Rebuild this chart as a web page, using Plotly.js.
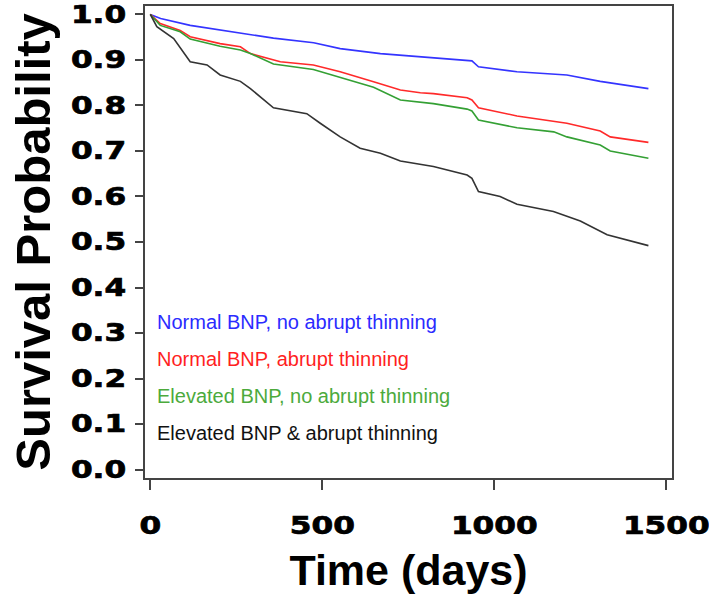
<!DOCTYPE html>
<html>
<head>
<meta charset="utf-8">
<script src="https://cdn.plot.ly/plotly-3.0.1.min.js"></script>
<style>
html,body{margin:0;padding:0;background:#fff;}
#chart{width:709px;height:603px;}
#chart .xtick text, #chart .ytick text{stroke:#000;stroke-width:0.7px;}
</style>
</head>
<body>
<div id="chart"></div>
<script>
// Series labels and colours
const seriesNames = [
  "Normal BNP, no abrupt thinning",
  "Normal BNP, abrupt thinning",
  "Elevated BNP, no abrupt thinning",
  "Elevated BNP & abrupt thinning"
];
const seriesColors = ["#3434ff", "#ff2a2a", "#34a034", "#333333"];
const labelColors = ["#2b2bff", "#ff1f1f", "#4caa3c", "#111111"];

// Survival curves (time in days, survival probability)
const blueT = [0, 30, 116, 262, 358, 475, 552, 669, 785, 921, 935, 954, 1066, 1211, 1308, 1448];
const blueS = [1.0, 0.991, 0.976, 0.960, 0.948, 0.938, 0.925, 0.914, 0.907, 0.900, 0.898, 0.885, 0.874, 0.867, 0.853, 0.837];

const redT = [0, 29, 87, 116, 203, 262, 291, 358, 378, 474, 552, 649, 727, 785, 823, 921, 935, 954, 1066, 1211, 1308, 1337, 1448];
const redS = [1.0, 0.980, 0.965, 0.951, 0.936, 0.929, 0.914, 0.900, 0.896, 0.889, 0.874, 0.852, 0.834, 0.828, 0.826, 0.817, 0.812, 0.795, 0.777, 0.761, 0.744, 0.731, 0.719];

const greenT = [0, 29, 87, 116, 203, 262, 291, 358, 474, 552, 649, 727, 823, 921, 935, 954, 1066, 1173, 1211, 1308, 1337, 1448];
const greenS = [1.0, 0.976, 0.962, 0.946, 0.930, 0.922, 0.914, 0.891, 0.879, 0.862, 0.840, 0.812, 0.804, 0.792, 0.788, 0.768, 0.751, 0.742, 0.731, 0.713, 0.700, 0.684];

const blackT = [0, 19, 68, 116, 165, 203, 262, 291, 358, 455, 494, 552, 610, 669, 727, 823, 921, 935, 954, 1017, 1066, 1172, 1250, 1328, 1448];
const blackS = [1.0, 0.973, 0.947, 0.896, 0.889, 0.867, 0.853, 0.837, 0.795, 0.782, 0.761, 0.731, 0.706, 0.695, 0.678, 0.666, 0.647, 0.640, 0.611, 0.600, 0.583, 0.567, 0.546, 0.516, 0.492];

const xTicks = [0, 500, 1000, 1500];
const yTicks = [0.0, 0.1, 0.2, 0.3, 0.4, 0.5, 0.6, 0.7, 0.8, 0.9, 1.0];
const yTickText = ["0.0", "0.1", "0.2", "0.3", "0.4", "0.5", "0.6", "0.7", "0.8", "0.9", "1.0"];
const labelY = [0.325, 0.244, 0.162, 0.081];
const labelX = 14;

const xs = [blueT, redT, greenT, blackT];
const ys = [blueS, redS, greenS, blackS];

const traces = xs.map((t, i) => ({
  x: t, y: ys[i], type: "scatter", mode: "lines",
  name: seriesNames[i],
  line: {color: seriesColors[i], width: 1.6, shape: "linear"},
  hoverinfo: "skip"
}));

const annotations = seriesNames.map((n, i) => ({
  x: labelX, y: labelY[i], xref: "x", yref: "y",
  text: n, showarrow: false, xanchor: "left", yanchor: "middle",
  font: {family: "Liberation Sans, Arial, sans-serif", size: 20, color: labelColors[i]}
}));

const tickFont = {family: "DejaVu Sans, sans-serif", size: 24, color: "#000", weight: "bold"};

const layout = {
  width: 709, height: 603,
  margin: {l: 145, r: 37, t: 6, b: 125},
  paper_bgcolor: "#fff", plot_bgcolor: "#fff",
  showlegend: false,
  xaxis: {
    range: [-15.4, 1516.6],
    tickvals: xTicks, ticktext: xTicks.map(String),
    ticks: "outside", ticklen: 10, tickwidth: 2, tickcolor: "#444",
    showline: true, mirror: true, linecolor: "#444", linewidth: 2,
    showgrid: false, zeroline: false,
    tickfont: tickFont, ticklabelstandoff: 15, ticklabeloverflow: "allow",
    title: {text: "Time (days)", font: {family: "Liberation Sans, Arial, sans-serif", size: 43, color: "#000", weight: "bold"}, standoff: 16}
  },
  yaxis: {
    range: [-0.0186, 1.0186],
    tickvals: yTicks, ticktext: yTickText,
    ticks: "outside", ticklen: 8, tickwidth: 2, tickcolor: "#444",
    showline: true, mirror: true, linecolor: "#444", linewidth: 2,
    showgrid: false, zeroline: false,
    tickfont: tickFont, ticklabelstandoff: 4, ticklabeloverflow: "allow",
    title: {text: "Survival Probability", font: {family: "Liberation Sans, Arial, sans-serif", size: 49, color: "#000", weight: "bold"}, standoff: 18}
  },
  annotations: annotations
};

// Widen the tick label glyphs horizontally (the reference uses an extended heavy face)
function widenTicks() {
  const sx = 1.3;
  document.querySelectorAll("#chart .xtick text, #chart .ytick text").forEach(el => {
    if (el.dataset.widened) return;
    const ax = parseFloat(el.getAttribute("x")) || 0;
    const prev = el.getAttribute("transform") || "";
    el.setAttribute("transform", prev + " translate(" + ax + ",0) scale(" + sx + ",1) translate(" + (-ax) + ",0)");
    el.dataset.widened = "1";
  });
}

Plotly.newPlot("chart", traces, layout, {staticPlot: true, displayModeBar: false}).then(widenTicks);
</script>
</body>
</html>
